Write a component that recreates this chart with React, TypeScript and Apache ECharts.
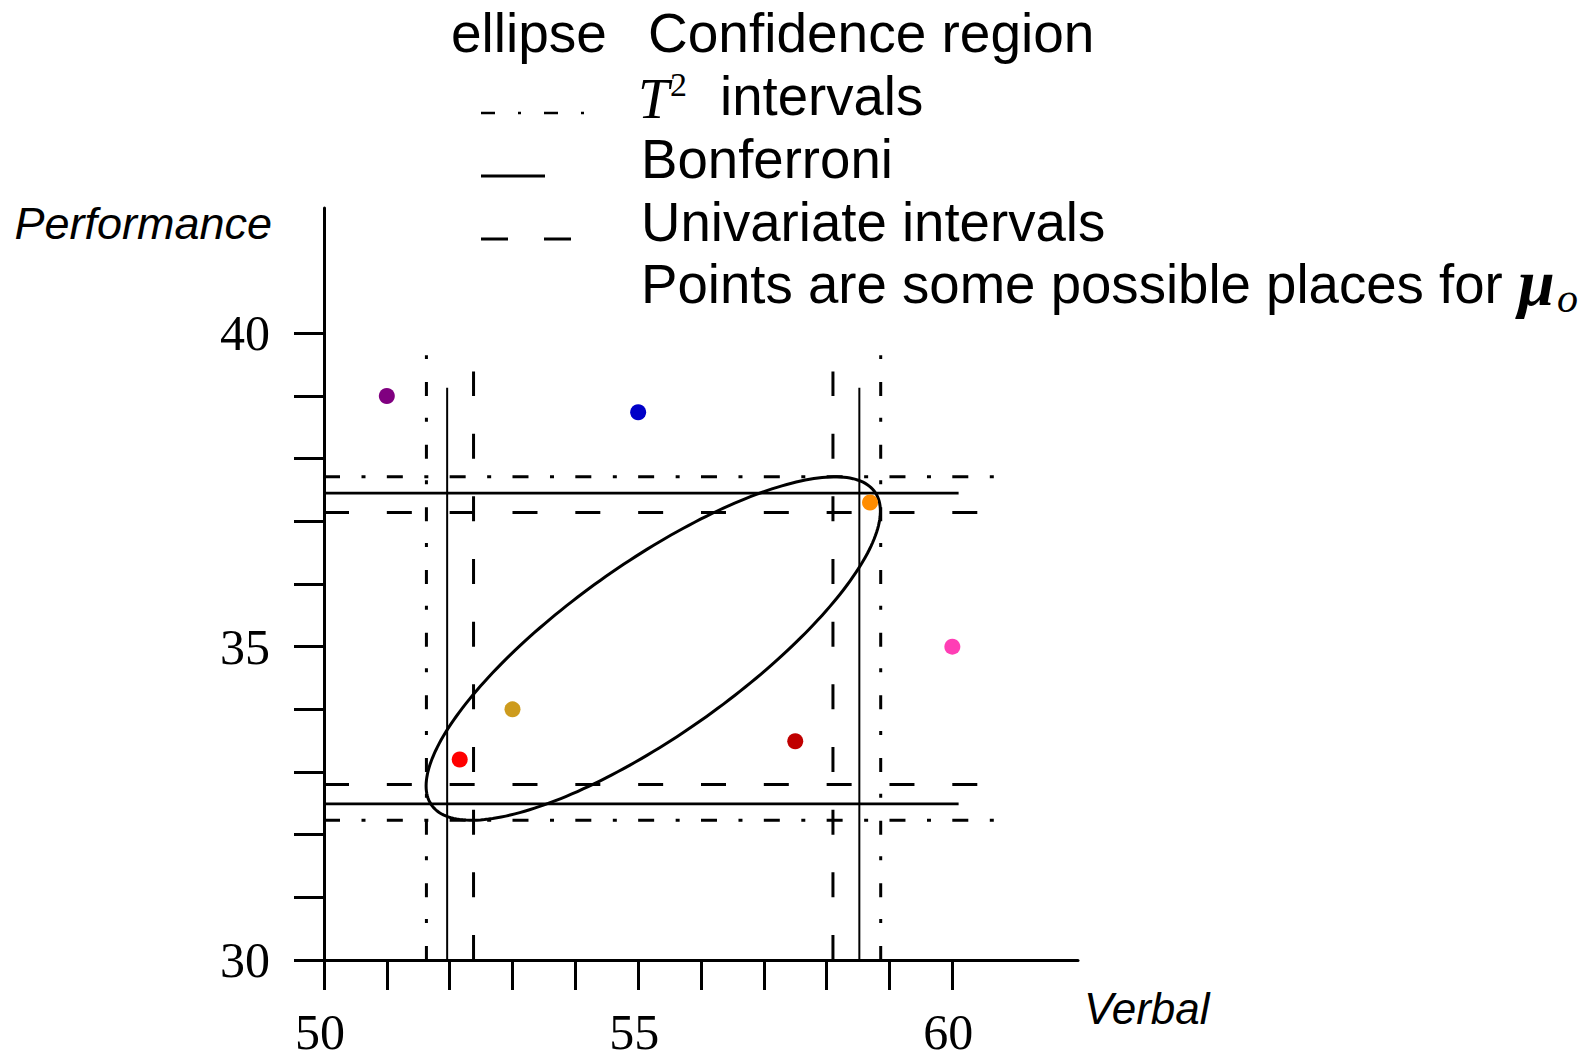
import React, { useEffect, useRef } from "react";
import * as echarts from "echarts";

// ---- axis ticks / labels ----
const xTicks = [50, 51, 52, 53, 54, 55, 56, 57, 58, 59, 60];
const yTicks = [30, 31, 32, 33, 34, 35, 36, 37, 38, 39, 40];
const xLabels = [50, 55, 60];
const yLabels = [30, 35, 40];

// ---- candidate points for mu_o ----
const pointVerbal = [51.0, 55.0, 58.69, 60.0, 53.0, 52.16, 57.5];
const pointPerformance = [39.0, 38.74, 37.3, 35.0, 34.0, 33.2, 33.49];
const pointColors = ["#800080", "#0000C8", "#FF8C00", "#FF3EB5", "#CD9B1D", "#FF0000", "#C00000"];

// ---- sample mean and confidence ellipse ----
const sampleMean = [55.24, 34.97];
const ellipseCorrelation = 0.8;

// ---- intervals [lower, upper] ----
const t2Verbal = [51.63, 58.86];
const t2Performance = [32.23, 37.71];
const bonfVerbal = [51.96, 58.52];
const bonfPerformance = [32.49, 37.45];
const univVerbal = [52.38, 58.1];
const univPerformance = [32.8, 37.14];

// how far each family of interval lines runs: [Verbal end of horizontal lines, Performance end of vertical lines]
const t2LineEnds = [60.66, 39.65];
const bonfLineEnds = [60.1, 39.13];
const univLineEnds = [60.42, 39.39];

const AXIS_X0 = 50;
const AXIS_Y0 = 30;

function intervalLines(
  name: string,
  verbal: number[],
  perf: number[],
  ends: number[],
  hWidth: number,
  vWidth: number,
  hDash: any,
  vDash: any
) {
  const out: any[] = [];
  perf.forEach((y) => {
    out.push({
      name,
      type: "line",
      data: [
        [AXIS_X0, y],
        [ends[0], y],
      ],
      symbol: "none",
      silent: true,
      z: 2,
      lineStyle: { color: "#000", width: hWidth, type: hDash, dashOffset: 0, cap: "butt" },
    });
  });
  verbal.forEach((x) => {
    out.push({
      name,
      type: "line",
      data: [
        [x, AXIS_Y0],
        [x, ends[1]],
      ],
      symbol: "none",
      silent: true,
      z: 2,
      lineStyle: { color: "#000", width: vWidth, type: vDash, dashOffset: 0, cap: "butt" },
    });
  });
  return out;
}

const SANS = "'Liberation Sans', Arial, Helvetica, sans-serif";
const SERIF = "'Liberation Serif', 'Times New Roman', serif";
const LEG = 54.6;

export default function App() {
  const ref = useRef<HTMLDivElement>(null);

  useEffect(() => {
    if (!ref.current) return;
    const chart = echarts.init(ref.current, undefined, { renderer: "svg" });

    const hx = (t2Verbal[1] - t2Verbal[0]) / 2;
    const hy = (t2Performance[1] - t2Performance[0]) / 2;

    const option: any = {
      animation: false,
      backgroundColor: "#fff",
      grid: { left: 324, top: 208, width: 754, height: 752, outerBoundsMode: "none" },
      xAxis: {
        type: "value",
        min: 50,
        max: 62,
        interval: 1,
        axisLine: { show: true, onZero: false, lineStyle: { color: "#000", width: 3 } },
        axisTick: {
          show: true,
          length: 30,
          customValues: xTicks,
          lineStyle: { color: "#000", width: 3 },
        },
        axisLabel: {
          show: true,
          customValues: xLabels,
          margin: 52,
          lineHeight: 40,
          padding: [0, 8, 0, 0],
          fontFamily: SERIF,
          fontSize: 50,
          color: "#000",
        },
        splitLine: { show: false },
      },
      yAxis: {
        type: "value",
        min: 30,
        max: 42,
        interval: 1,
        name: "Performance",
        nameLocation: "end",
        nameGap: -15,
        nameMoveOverlap: false,
        nameTextStyle: {
          fontFamily: SANS,
          fontStyle: "italic",
          fontSize: 45,
          color: "#000",
          align: "right",
          verticalAlign: "middle",
          padding: [0, 52, 0, 0],
        },
        axisLine: { show: true, onZero: false, lineStyle: { color: "#000", width: 3 } },
        axisTick: {
          show: true,
          length: 30,
          customValues: yTicks,
          lineStyle: { color: "#000", width: 3 },
        },
        axisLabel: {
          show: true,
          customValues: yLabels,
          margin: 54,
          fontFamily: SERIF,
          fontSize: 50,
          color: "#000",
        },
        splitLine: { show: false },
      },
      series: [
        ...intervalLines("T² intervals", t2Verbal, t2Performance, t2LineEnds, 3, 3, [16, 21.5, 4, 21.33], [14, 23, 4, 21.67]),
        ...intervalLines("Bonferroni", bonfVerbal, bonfPerformance, bonfLineEnds, 2.8, 2, "solid", "solid"),
        ...intervalLines("Univariate intervals", univVerbal, univPerformance, univLineEnds, 3, 3, [25, 37.83], [25, 37.67]),
        {
          name: "Confidence region",
          type: "custom",
          silent: true,
          z: 3,
          data: [[sampleMean[0], sampleMean[1], hx, hy, ellipseCorrelation]],
          encode: { x: 0, y: 1 },
          renderItem: (params: any, api: any) => {
            const cx = api.value(0);
            const cy = api.value(1);
            const ax = api.value(2);
            const ay = api.value(3);
            const r = api.value(4);
            const s = Math.sqrt(1 - r * r);
            const pts: number[][] = [];
            const n = 240;
            for (let i = 0; i <= n; i++) {
              const t = (i / n) * Math.PI * 2;
              const u = ax * Math.cos(t);
              const v = ay * (r * Math.cos(t) + s * Math.sin(t));
              pts.push(api.coord([cx + u, cy + v]));
            }
            return {
              type: "polyline",
              shape: { points: pts },
              style: { fill: "none", stroke: "#000", lineWidth: 3 },
            };
          },
        },
        {
          name: "Points",
          type: "scatter",
          symbol: "circle",
          symbolSize: 16,
          z: 5,
          itemStyle: { opacity: 1 },
          data: pointVerbal.map((x, i) => ({
            value: [x, pointPerformance[i]],
            itemStyle: { color: pointColors[i], opacity: 1 },
          })),
        },
      ],
      graphic: [
        // x axis name
        {
          type: "text",
          x: 1084,
          y: 1008,
          style: {
            text: "Verbal",
            fontFamily: SANS,
            fontStyle: "italic",
            fontSize: 44,
            fill: "#000",
            align: "left",
            verticalAlign: "middle",
          },
        },
        // row 1
        {
          type: "text",
          x: 451,
          y: 33,
          style: { text: "ellipse", fontFamily: SANS, fontSize: 55, fill: "#000", align: "left", verticalAlign: "middle" },
        },
        {
          type: "text",
          x: 648,
          y: 33,
          style: {
            text: "Confidence region",
            fontFamily: SANS,
            fontSize: 55,
            fill: "#000",
            align: "left",
            verticalAlign: "middle",
          },
        },
        // row 2: T^2 intervals
        {
          type: "line",
          shape: { x1: 481, y1: 113, x2: 584, y2: 113 },
          style: { stroke: "#000", lineWidth: 2.5, lineDash: [14, 23, 3, 23] },
        },
        {
          type: "text",
          x: 638,
          y: 99,
          style: {
            text: "T",
            fontFamily: SERIF,
            fontStyle: "italic",
            fontSize: 56,
            fill: "#000",
            align: "left",
            verticalAlign: "middle",
          },
        },
        {
          type: "text",
          x: 670,
          y: 84,
          style: { text: "2", fontFamily: SERIF, fontSize: 34, fill: "#000", align: "left", verticalAlign: "middle" },
        },
        {
          type: "text",
          x: 720,
          y: 96,
          style: { text: "intervals", fontFamily: SANS, fontSize: LEG, fill: "#000", align: "left", verticalAlign: "middle" },
        },
        // row 3: Bonferroni
        {
          type: "line",
          shape: { x1: 481, y1: 176, x2: 545, y2: 176 },
          style: { stroke: "#000", lineWidth: 3 },
        },
        {
          type: "text",
          x: 641,
          y: 159,
          style: { text: "Bonferroni", fontFamily: SANS, fontSize: LEG, fill: "#000", align: "left", verticalAlign: "middle" },
        },
        // row 4: Univariate
        {
          type: "line",
          shape: { x1: 481, y1: 239, x2: 571, y2: 239 },
          style: { stroke: "#000", lineWidth: 3, lineDash: [27, 36] },
        },
        {
          type: "text",
          x: 641,
          y: 222,
          style: {
            text: "Univariate intervals",
            fontFamily: SANS,
            fontSize: LEG,
            fill: "#000",
            align: "left",
            verticalAlign: "middle",
          },
        },
        // row 5: points
        {
          type: "text",
          x: 641,
          y: 284,
          style: {
            text: "Points are some possible places for",
            fontFamily: SANS,
            fontSize: LEG,
            fill: "#000",
            align: "left",
            verticalAlign: "middle",
          },
        },
        {
          type: "text",
          x: 1518,
          y: 282,
          style: {
            text: "μ",
            fontFamily: SERIF,
            fontStyle: "italic",
            fontWeight: "bold",
            fontSize: 66,
            fill: "#000",
            align: "left",
            verticalAlign: "middle",
          },
        },
        {
          type: "text",
          x: 1557,
          y: 298,
          style: {
            text: "o",
            fontFamily: SERIF,
            fontStyle: "italic",
            fontSize: 42,
            fill: "#000",
            align: "left",
            verticalAlign: "middle",
          },
        },
      ],
    };

    chart.setOption(option);
    return () => {
      chart.dispose();
    };
  }, []);

  return (
    <div
      ref={ref}
      style={{ position: "fixed", left: 0, top: 0, width: 1591, height: 1060, background: "#fff" }}
    />
  );
}
